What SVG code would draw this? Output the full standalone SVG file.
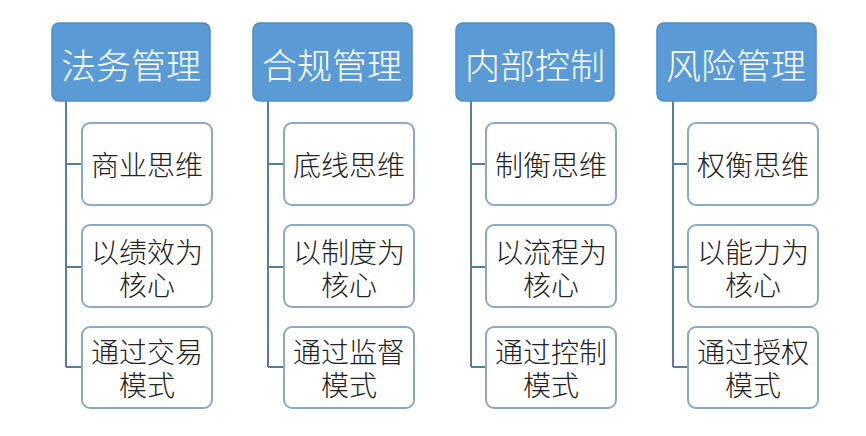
<svg xmlns="http://www.w3.org/2000/svg" width="866" height="436" viewBox="0 0 866 436">
<style>
.hdr{fill:#5b9bd5;stroke:#4f8cc4;stroke-width:1.5}
.hdr-t{fill:#ffffff;font-family:"Noto Sans CJK SC","Noto Sans CJK JP",sans-serif;font-size:35px;font-weight:300;text-anchor:middle;dominant-baseline:central}
.box{fill:#ffffff;stroke:#8aa9c3;stroke-width:2}
.box-t{fill:#222222;font-family:"Liberation Sans","Noto Sans CJK SC","Noto Sans CJK JP",sans-serif;font-size:28px;font-weight:300;text-anchor:middle}
.conn{fill:none;stroke:#5a7c9c;stroke-width:2}
</style>
<rect width="866" height="436" fill="#ffffff"/>
<g id="connectors">
<path class="conn" d="M66,101 V367 M66,164 H82 M66,267 H82 M66,367 H82"/>
<path class="conn" d="M268,101 V367 M268,164 H284 M268,267 H284 M268,367 H284"/>
<path class="conn" d="M471,101 V367 M471,164 H486 M471,267 H486 M471,367 H486"/>
<path class="conn" d="M673,101 V367 M673,164 H688 M673,267 H688 M673,367 H688"/>
</g>
<g id="h1"><rect class="hdr" x="52" y="23" width="158" height="78" rx="7"/><text class="hdr-t" x="131" y="63">法务管理</text></g>
<g id="c1a"><rect class="box" x="82" y="123" width="130" height="82" rx="8"/><text class="box-t" x="147" y="176">商业思维</text></g>
<g id="c1b"><rect class="box" x="82" y="225" width="130" height="82" rx="8"/><text class="box-t" x="147" y="263">以绩效为</text><text class="box-t" x="147" y="296">核心</text></g>
<g id="c1c"><rect class="box" x="82" y="327" width="130" height="81" rx="8"/><text class="box-t" x="147" y="363">通过交易</text><text class="box-t" x="147" y="396">模式</text></g>

<g id="h2"><rect class="hdr" x="253" y="23" width="159" height="78" rx="7"/><text class="hdr-t" x="332" y="63">合规管理</text></g>
<g id="c2a"><rect class="box" x="284" y="123" width="130" height="82" rx="8"/><text class="box-t" x="349" y="176">底线思维</text></g>
<g id="c2b"><rect class="box" x="284" y="225" width="130" height="82" rx="8"/><text class="box-t" x="349" y="263">以制度为</text><text class="box-t" x="349" y="296">核心</text></g>
<g id="c2c"><rect class="box" x="284" y="327" width="130" height="81" rx="8"/><text class="box-t" x="349" y="363">通过监督</text><text class="box-t" x="349" y="396">模式</text></g>

<g id="h3"><rect class="hdr" x="456" y="23" width="158" height="78" rx="7"/><text class="hdr-t" x="535" y="63">内部控制</text></g>
<g id="c3a"><rect class="box" x="486" y="123" width="130" height="82" rx="8"/><text class="box-t" x="551" y="176">制衡思维</text></g>
<g id="c3b"><rect class="box" x="486" y="225" width="130" height="82" rx="8"/><text class="box-t" x="551" y="263">以流程为</text><text class="box-t" x="551" y="296">核心</text></g>
<g id="c3c"><rect class="box" x="486" y="327" width="130" height="81" rx="8"/><text class="box-t" x="551" y="363">通过控制</text><text class="box-t" x="551" y="396">模式</text></g>

<g id="h4"><rect class="hdr" x="657" y="23" width="159" height="78" rx="7"/><text class="hdr-t" x="736" y="63">风险管理</text></g>
<g id="c4a"><rect class="box" x="688" y="123" width="130" height="82" rx="8"/><text class="box-t" x="753" y="176">权衡思维</text></g>
<g id="c4b"><rect class="box" x="688" y="225" width="130" height="82" rx="8"/><text class="box-t" x="753" y="263">以能力为</text><text class="box-t" x="753" y="296">核心</text></g>
<g id="c4c"><rect class="box" x="688" y="327" width="130" height="81" rx="8"/><text class="box-t" x="753" y="363">通过授权</text><text class="box-t" x="753" y="396">模式</text></g>
</svg>
